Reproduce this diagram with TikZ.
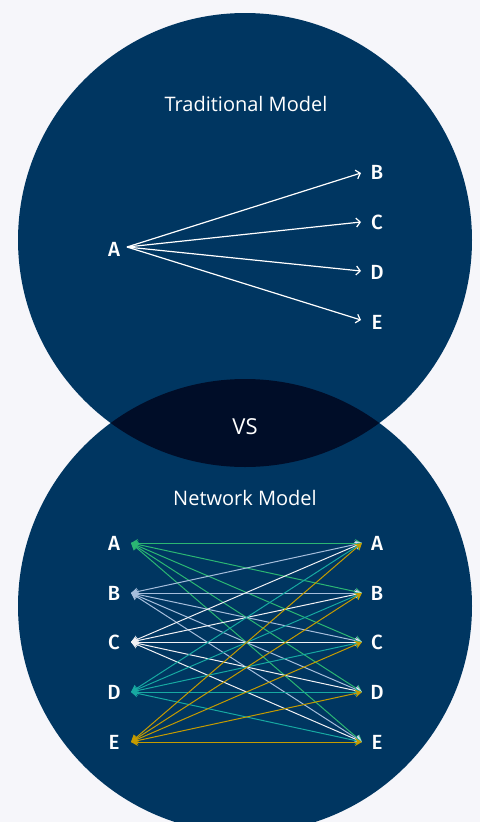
\documentclass[tikz,border=0pt]{standalone}
\usepackage{fontspec}
\setmainfont{Open Sans}
\newfontfamily\lf{Fira Sans Medium}
\usetikzlibrary{arrows.meta}
\definecolor{bgc}{HTML}{F6F6FA}
\definecolor{circc}{HTML}{003661}
\definecolor{lensc}{HTML}{000D28}
\definecolor{cA}{HTML}{2BB673}
\definecolor{cB}{HTML}{A6BEDC}
\definecolor{cC}{HTML}{F2F2F5}
\definecolor{cD}{HTML}{17A9A2}
\definecolor{cE}{HTML}{C59B00}
\tikzset{
  lbl/.style={text=white,font=\lf\fontsize{20.5}{20.5}\selectfont,inner sep=0pt},
  ttl/.style={text=white,font=\fontsize{20}{20}\selectfont,inner sep=0pt},
  tarrow/.style={white,line width=1.2pt,-{Straight Barb[length=4pt,width=9pt,line width=1.2pt]}},
  narrow/.style={line width=1pt,{Stealth[length=7pt,width=8pt]}-{Stealth[length=7pt,width=8pt]}}
}
\begin{document}
\begin{tikzpicture}[x=1pt,y=-1pt]
\useasboundingbox (0,0) rectangle (480,822);
\fill[bgc] (0,0) rectangle (480,822);
\fill[circc] (245,240) circle (227);
\fill[circc] (245,606) circle (227);
\begin{scope}
  \clip (245,240) circle (227);
  \fill[lensc] (245,606) circle (227);
\end{scope}
% top
\node[ttl] (t1) at (246,104) {Traditional Model};
\node[lbl] (ta) at (114,249) {A};
\node[lbl] (tb) at (377,172) {B};
\node[lbl] (tc) at (377,222) {C};
\node[lbl] (td) at (377,272) {D};
\node[lbl] (te) at (377,322) {E};
\coordinate (sa) at (127,247);
\coordinate (eb) at (361,173);
\coordinate (ec) at (361,222);
\coordinate (ed) at (361,271);
\coordinate (ee) at (361,320);
\foreach \e in {eb,ec,ed,ee} \draw[tarrow] (sa) -- (\e);
\node[text=white,font=\fontsize{22}{22}\selectfont,inner sep=0pt] (vs) at (245,427) {VS};
% bottom
\node[ttl] (t2) at (245,498) {Network Model};
\foreach \l/\y in {A/543,B/593,C/642,D/692,E/742}{
  \node[lbl] (L\l) at (114,\y) {\l};
  \node[lbl] (R\l) at (377,\y) {\l};
  \coordinate (pL\l) at (131,\y);
  \coordinate (pR\l) at (362,\y);
}
\foreach \s in {A,B,C,D,E}{
  \foreach \t in {A,B,C,D,E}{
    \draw[narrow,c\s] (pL\s) -- (pR\t);
  }
}
\end{tikzpicture}
\end{document}
